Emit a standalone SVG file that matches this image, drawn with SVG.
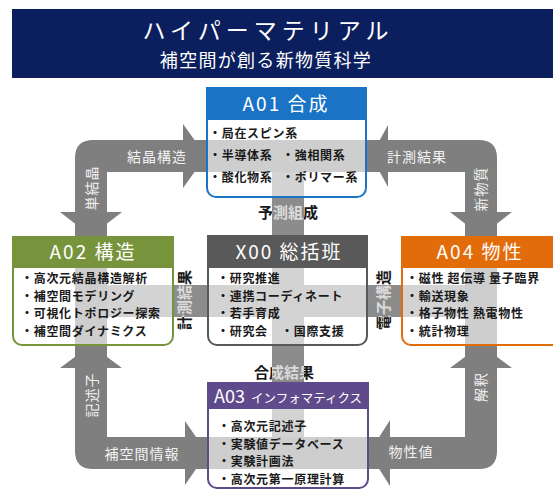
<svg xmlns="http://www.w3.org/2000/svg" width="553" height="490" viewBox="0 0 553 490">
<style>
text{font-family:"Noto Sans CJK JP","Noto Sans",sans-serif}
.arr{fill:#7f7f7f}
.band{fill:#7f7f7f}
.cross{fill:#8c8c8c}
.body{fill:#fff;fill-opacity:0.62;stroke-width:2}
.hd{fill:#fff;font-size:19px;letter-spacing:2px;text-anchor:middle}
.it{font-size:12px;letter-spacing:0.7px;font-weight:700;fill:#1a1a1a}
.al{fill:#f2f2f2;font-size:14px;letter-spacing:1px;text-anchor:middle}
.cl{font-size:15px;font-weight:700;text-anchor:middle}
</style>
<defs>
<linearGradient id="gh" gradientUnits="userSpaceOnUse" x1="0" y1="0" x2="553" y2="0">
<stop offset="0" stop-color="#1a1a1a"/><stop offset="0.4919" stop-color="#1a1a1a"/>
<stop offset="0.4919" stop-color="#dcdcdc"/><stop offset="0.5497" stop-color="#dcdcdc"/>
<stop offset="0.5497" stop-color="#1a1a1a"/><stop offset="1" stop-color="#1a1a1a"/>
</linearGradient>
<linearGradient id="gv" gradientUnits="userSpaceOnUse" x1="-40" y1="0" x2="40" y2="0">
<stop offset="0" stop-color="#1a1a1a"/><stop offset="0.2875" stop-color="#1a1a1a"/>
<stop offset="0.2875" stop-color="#dcdcdc"/><stop offset="0.6875" stop-color="#dcdcdc"/>
<stop offset="0.6875" stop-color="#1a1a1a"/><stop offset="1" stop-color="#1a1a1a"/>
</linearGradient>
</defs>
<rect width="553" height="490" fill="#fff"/>

<g id="title">
<rect x="12" y="9" width="545" height="69" fill="#0b1f5e"/>
<text x="268" y="39" fill="#fff" font-size="23" letter-spacing="5" text-anchor="middle">ハイパーマテリアル</text>
<text x="266" y="67" fill="#fff" font-size="18" letter-spacing="1.3" text-anchor="middle">補空間が創る新物質科学</text>
</g>

<g id="connectors">
<rect class="band" x="183" y="140" width="207" height="32"/>
<rect class="band" x="185" y="437" width="205" height="32"/>
<rect class="band" x="75" y="212" width="32" height="156"/>
<rect class="band" x="465" y="212" width="32" height="156"/>
<rect class="cross" x="272" y="172" width="32" height="265"/>
<rect class="cross" x="107" y="285" width="358" height="32"/>
<path class="arr" d="M183 124 L206 156 L183 188 L183 172 L107 172 L107 212 L122 212 L91 236 L60 212 L75 212 L75 158 Q75 140 93 140 L183 140 Z"/>
<path class="arr" d="M388 125 L371 156 L388 187 L388 172 L465 172 L465 212 L450 212 L481 236 L512 212 L497 212 L497 158 Q497 140 479 140 L388 140 Z"/>
<path class="arr" d="M60 368 L91 345 L122 368 L107 368 L107 437 L185 437 L185 421 L207 453 L185 485 L185 469 L93 469 Q75 469 75 451 L75 368 Z"/>
<path class="arr" d="M450 368 L481 345 L512 368 L497 368 L497 451 Q497 469 479 469 L390 469 L390 486 L369 453 L390 420 L390 437 L465 437 L465 368 Z"/>
<text class="al" x="157" y="162">結晶構造</text>
<text class="al" transform="translate(92,188) rotate(-90)" dy="0.35em">単結晶</text>
<text class="al" x="417" y="162">計測結果</text>
<text class="al" transform="translate(481,189) rotate(-90)" dy="0.35em">新物質</text>
<text class="al" transform="translate(92,395) rotate(-90)" dy="0.35em">記述子</text>
<text class="al" x="142" y="459">補空間情報</text>
<text class="al" transform="translate(481,387) rotate(-90)" dy="0.35em">解釈</text>
<text class="al" x="411" y="457">物性値</text>
<text class="cl" x="288" y="218" fill="url(#gh)">予測組成</text>
<text class="cl" x="284" y="378" fill="url(#gh)">合成結果</text>
<text class="cl" transform="translate(185,300) rotate(-90)" dy="0.35em" fill="url(#gv)">計測結果</text>
<text class="cl" transform="translate(384,300) rotate(-90)" dy="0.35em" fill="url(#gv)">電子構造</text>
</g>

<g id="A01">
<path class="body" stroke="#1b73c6" d="M207 88 H366 V188 A9 9 0 0 1 357 197 H216 A9 9 0 0 1 207 188 Z"/>
<rect x="207" y="88" width="159" height="31" fill="#1b73c6" stroke="#1b73c6" stroke-width="2"/>
<text class="hd" x="286" y="111">A01 合成</text>
<text class="it" x="209" y="138">・局在スピン系</text>
<text class="it" y="160"><tspan x="209">・半導体系</tspan><tspan x="282">・強相関系</tspan></text>
<text class="it" y="182"><tspan x="209">・酸化物系</tspan><tspan x="282">・ポリマー系</tspan></text>
</g>

<g id="A02">
<path class="body" stroke="#77933c" d="M13 237 H173 V336 A9 9 0 0 1 164 345 H22 A9 9 0 0 1 13 336 Z"/>
<rect x="13" y="237" width="160" height="30" fill="#77933c" stroke="#77933c" stroke-width="2"/>
<text class="hd" x="93" y="259">A02 構造</text>
<text class="it" x="21" y="283">・高次元結晶構造解析</text>
<text class="it" x="21" y="300.5">・補空間モデリング</text>
<text class="it" x="21" y="318">・可視化トポロジー探索</text>
<text class="it" x="21" y="335.5">・補空間ダイナミクス</text>
</g>

<g id="X00">
<path class="body" stroke="#595959" d="M208 236 H367 V336 A9 9 0 0 1 358 345 H217 A9 9 0 0 1 208 336 Z"/>
<rect x="208" y="236" width="159" height="31" fill="#595959" stroke="#595959" stroke-width="2"/>
<text class="hd" x="289" y="259">X00 総括班</text>
<text class="it" x="217" y="283">・研究推進</text>
<text class="it" x="217" y="300.5">・連携コーディネート</text>
<text class="it" x="217" y="318">・若手育成</text>
<text class="it" y="335.5"><tspan x="217">・研究会</tspan><tspan x="281">・国際支援</tspan></text>
</g>

<g id="A04">
<path class="body" stroke="#e36c0a" d="M402 237 H570 V345 H411 A9 9 0 0 1 402 336 Z"/>
<rect x="402" y="237" width="168" height="30" fill="#e36c0a" stroke="#e36c0a" stroke-width="2"/>
<text class="hd" x="480" y="259">A04 物性</text>
<text class="it" x="406" y="283">・磁性 超伝導 量子臨界</text>
<text class="it" x="406" y="300.5">・輸送現象</text>
<text class="it" x="406" y="318">・格子物性 熱電物性</text>
<text class="it" x="406" y="335.5">・統計物理</text>
</g>

<g id="A03">
<path class="body" stroke="#5f4a8b" d="M208 383 H368 V479 A9 9 0 0 1 359 488 H217 A9 9 0 0 1 208 479 Z"/>
<rect x="208" y="383" width="160" height="25" fill="#5f4a8b" stroke="#5f4a8b" stroke-width="2"/>
<text x="214" y="403" fill="#fff"><tspan font-size="18">A03</tspan><tspan x="251" font-size="12.5">インフォマティクス</tspan></text>
<text class="it" x="218" y="431">・高次元記述子</text>
<text class="it" x="218" y="448.5">・実験値データベース</text>
<text class="it" x="218" y="466">・実験計画法</text>
<text class="it" x="218" y="483.5">・高次元第一原理計算</text>
</g>
</svg>
